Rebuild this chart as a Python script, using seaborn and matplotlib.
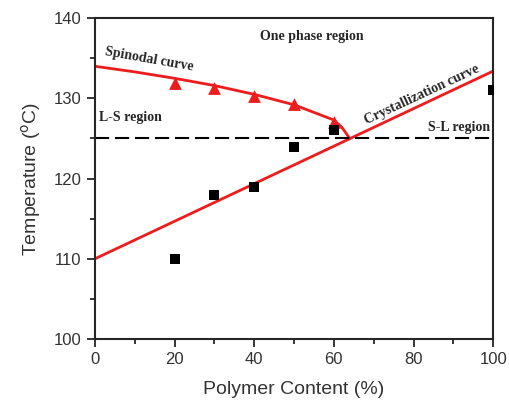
import matplotlib
matplotlib.use("Agg")
import matplotlib.pyplot as plt
import seaborn as sns
import pandas as pd
from matplotlib.ticker import MultipleLocator

# Data
spin_pts_x = [20, 30, 40, 50, 60]
spin_pts_y = [131.9, 131.3, 130.3, 129.3, 127.0]
cryst_pts_x = [20, 30, 40, 50, 60, 100]
cryst_pts_y = [110.0, 118.0, 119.0, 124.0, 126.0, 131.0]
spin_curve_x = [0, 10, 20, 30, 40, 50, 60, 62, 64]
spin_curve_y = [134.0, 133.3, 132.5, 131.6, 130.5, 129.2, 127.3, 126.4, 125.0]
cryst_line_x = [0, 100]
cryst_line_y = [110.0, 133.4]
sl_level = 125

sns.set_style("ticks")
plt.rcParams['font.family'] = ['Liberation Sans', 'DejaVu Sans']

fig = plt.figure(figsize=(5.10, 4.12), dpi=100)
ax = fig.add_axes([0.186, 0.177, 0.781, 0.779])

red = "#ee1c1c"
sns.lineplot(x=spin_curve_x, y=spin_curve_y, ax=ax, color=red, lw=2, sort=False)
sns.lineplot(x=cryst_line_x, y=cryst_line_y, ax=ax, color=red, lw=2)
ax.axhline(sl_level, color="black", lw=1.5, ls=(0, (6.8, 2.8)))
sns.scatterplot(x=spin_pts_x, y=spin_pts_y, ax=ax, marker="^", s=85, color=red,
                edgecolor=red, linewidth=0, zorder=5)
sns.scatterplot(x=cryst_pts_x, y=cryst_pts_y, ax=ax, marker="s", s=42, color="black",
                edgecolor="black", linewidth=0, zorder=5)

ax.set_xlim(0, 100)
ax.set_ylim(100, 140)
ax.xaxis.set_major_locator(MultipleLocator(20))
ax.xaxis.set_minor_locator(MultipleLocator(10))
ax.yaxis.set_major_locator(MultipleLocator(10))
ax.yaxis.set_minor_locator(MultipleLocator(5))
ax.tick_params(which="major", direction="out", length=6, width=1.3, labelsize=12,
               labelcolor="#333333")
ax.tick_params(which="minor", direction="out", length=3.5, width=1.3)
for s in ax.spines.values():
    s.set_linewidth(1.5)
    s.set_visible(True)

ax.set_xlabel("Polymer Content (%)", fontsize=14, color="#333333", labelpad=10)
ax.set_ylabel("Temperature ($^{\\mathrm{o}}$C)", fontsize=14, color="#333333", labelpad=8)

serif = ['Liberation Serif', 'DejaVu Serif']
fs = 10
ax.text(13.6, 134.9, "Spinodal curve", family=serif, fontweight="bold", fontsize=fs,
        rotation=-10, ha="center", va="center", rotation_mode="anchor")
ax.text(41.5, 137.7, "One phase region", family=serif, fontweight="bold", fontsize=fs,
        ha="left", va="center")
ax.text(1, 127.6, "L-S region", family=serif, fontweight="bold", fontsize=fs,
        ha="left", va="center")
ax.text(99.3, 126.4, "S-L region", family=serif, fontweight="bold", fontsize=fs,
        ha="right", va="center")
ax.text(82, 130.5, "Crystallization curve", family=serif, fontweight="bold", fontsize=fs,
        rotation=25, ha="center", va="center", rotation_mode="anchor")

fig.savefig("out.png", dpi=100)
